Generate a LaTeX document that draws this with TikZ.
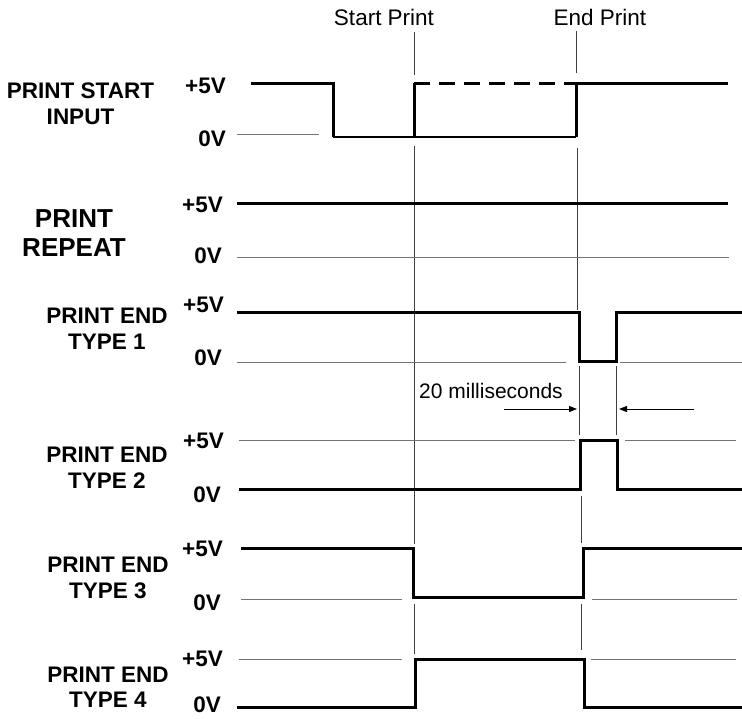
\documentclass[tikz,border=0pt]{standalone}
\usepackage{fontspec}
\setmainfont{Liberation Sans}
\usetikzlibrary{arrows.meta}

\begin{document}
\begin{tikzpicture}[x=1pt, y=-1pt, >={Triangle[length=8pt,width=6pt]}]
        \tikzset{
            sig/.style={line width=3pt, line join=miter},
            siglow/.style={line width=1.8pt},
            lvl/.style={line width=1pt, black!55},
            refline/.style={line width=0.9pt, black!75},
            signame/.style={font=\fontsize{22.5}{25.5}\selectfont\bfseries, align=center},
            volt/.style={font=\fontsize{22.5}{26}\selectfont\bfseries, anchor=east, inner sep=0pt},
            timelbl/.style={font=\fontsize{22.5}{26}\selectfont}
        }
        \useasboundingbox (0,0) rectangle (742,718);

        % Time marks
        \node [timelbl] (start) at (384,17) {Start Print};
        \node [timelbl] (end) at (600,17) {End Print};
        \draw [refline] (414,32) -- (414,75) (414,146) -- (414,544) (414,604) -- (414,654);
        \draw [refline] (576,31) -- (576,73) (577,148) -- (577,310) (579,366) -- (579,435)
                        (581,496) -- (581,543) (581,604) -- (581,650);
        \draw [refline] (616,366) -- (616,435);

        % Print start input
        \node [signame] (psi) at (80.5,104) {PRINT START\\INPUT};
        \node [volt] (psi-hi) at (226,86) {+5V};
        \node [volt] (psi-lo) at (226,138.5) {0V};
        \draw [lvl] (237,134) -- (319,134);
        \draw [sig] (251,83) -- (333,83) -- (333,137);
        \draw [siglow] (333,137) -- (576,137);
        \draw [sig] (414,137) -- (414,83);
        \draw [sig, dash pattern=on 16pt off 9pt] (414,83) -- (576,83);
        \draw [sig] (576,137) -- (576,83) -- (728,83);

        % Print repeat
        \node [signame, font=\fontsize{26}{29}\selectfont\bfseries] (rep) at (74,233) {PRINT\\REPEAT};
        \node [volt] (rep-hi) at (223,205) {+5V};
        \node [volt] (rep-lo) at (222,256) {0V};
        \draw [sig] (237,203) -- (728,203);
        \draw [lvl] (237,257) -- (729,257);

        % Print end type 1
        \node [signame] (pe1) at (107,329) {PRINT END\\TYPE 1};
        \node [volt] (pe1-hi) at (224,305) {+5V};
        \node [volt] (pe1-lo) at (222,357.5) {0V};
        \draw [lvl] (237,362) -- (566,362) (620,362) -- (742,362);
        \draw [sig] (237,312) -- (579,312) -- (579,361) -- (616,361) -- (616,312) -- (742,312);

        % Pulse width
        \node [anchor=west, inner sep=0pt, font=\fontsize{21}{24}\selectfont] (ms) at (419,391) {20 milliseconds};
        \draw [->, line width=1pt] (504,409) -- (577,409);
        \draw [->, line width=1pt] (694,409) -- (619,409);

        % Print end type 2
        \node [signame] (pe2) at (107,468) {PRINT END\\TYPE 2};
        \node [volt] (pe2-hi) at (224,441) {+5V};
        \node [volt] (pe2-lo) at (221,494.5) {0V};
        \draw [lvl] (239,440) -- (575,440) (625,440) -- (736,440);
        \draw [sig] (239,489) -- (580,489) -- (580,440) -- (617,440) -- (617,489) -- (742,489);

        % Print end type 3
        \node [signame] (pe3) at (108,578) {PRINT END\\TYPE 3};
        \node [volt] (pe3-hi) at (223,548.5) {+5V};
        \node [volt] (pe3-lo) at (221,602.5) {0V};
        \draw [lvl] (241,599) -- (402,599) (592,599) -- (737,599);
        \draw [sig] (241,548) -- (413,548) -- (413,597) -- (583,597) -- (583,548) -- (742,548);

        % Print end type 4
        \node [signame] (pe4) at (108,687.5) {PRINT END\\TYPE 4};
        \node [volt] (pe4-hi) at (223,658.5) {+5V};
        \node [volt] (pe4-lo) at (221,705) {0V};
        \draw [lvl] (239,659) -- (402,659) (591,659) -- (736,659);
        \draw [sig] (237,707) -- (415,707) -- (415,659) -- (584,659) -- (584,707) -- (742,707);

    \end{tikzpicture}
\end{document}
